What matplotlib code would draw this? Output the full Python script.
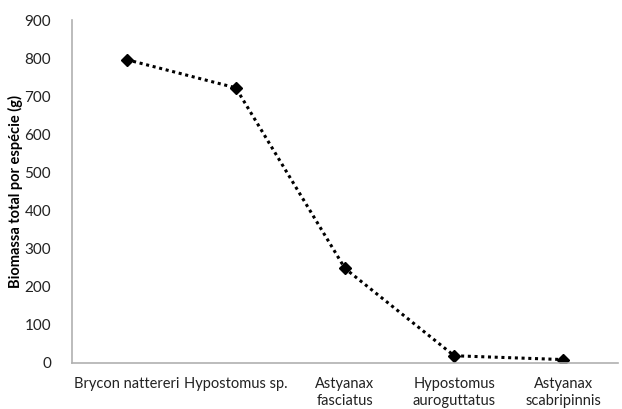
import matplotlib
matplotlib.use("Agg")
import matplotlib.pyplot as plt

plt.rcParams['font.family'] = ['Lato', 'DejaVu Sans']

categories = ["Brycon nattereri", "Hypostomus sp.", "Astyanax\nfasciatus",
              "Hypostomus\nauroguttatus", "Astyanax\nscabripinnis"]
values = [796, 722, 248, 19, 9]
yticks = [0, 100, 200, 300, 400, 500, 600, 700, 800, 900]

fig = plt.figure(figsize=(6.22, 4.09), dpi=100)
ax = fig.add_axes([72/622, 46/409, 546/622, 343/409])

x = list(range(len(categories)))
ax.plot(x, values, linestyle=(0, (1, 1.2)), color='black', linewidth=2.2,
        marker='D', markersize=6.5, markerfacecolor='black', markeredgecolor='black')

ax.set_xlim(-0.5, len(categories) - 0.5)
ax.set_ylim(0, 900)
ax.set_yticks(yticks)
ax.set_xticks(x)
ax.set_xticklabels(categories, fontsize=10.5, linespacing=1.25)
ax.tick_params(axis='both', length=0, colors='#222222')
ax.tick_params(axis='y', pad=15, labelsize=11)
ax.tick_params(axis='x', pad=10)
for s in ['top', 'right']:
    ax.spines[s].set_visible(False)
for s in ['left', 'bottom']:
    ax.spines[s].set_color('#b0b0b0')
    ax.spines[s].set_linewidth(1.2)
ax.set_ylabel("Biomassa total por espécie (g)", fontsize=10.5, fontweight='bold', labelpad=1)

fig.savefig("out.png", dpi=100)
